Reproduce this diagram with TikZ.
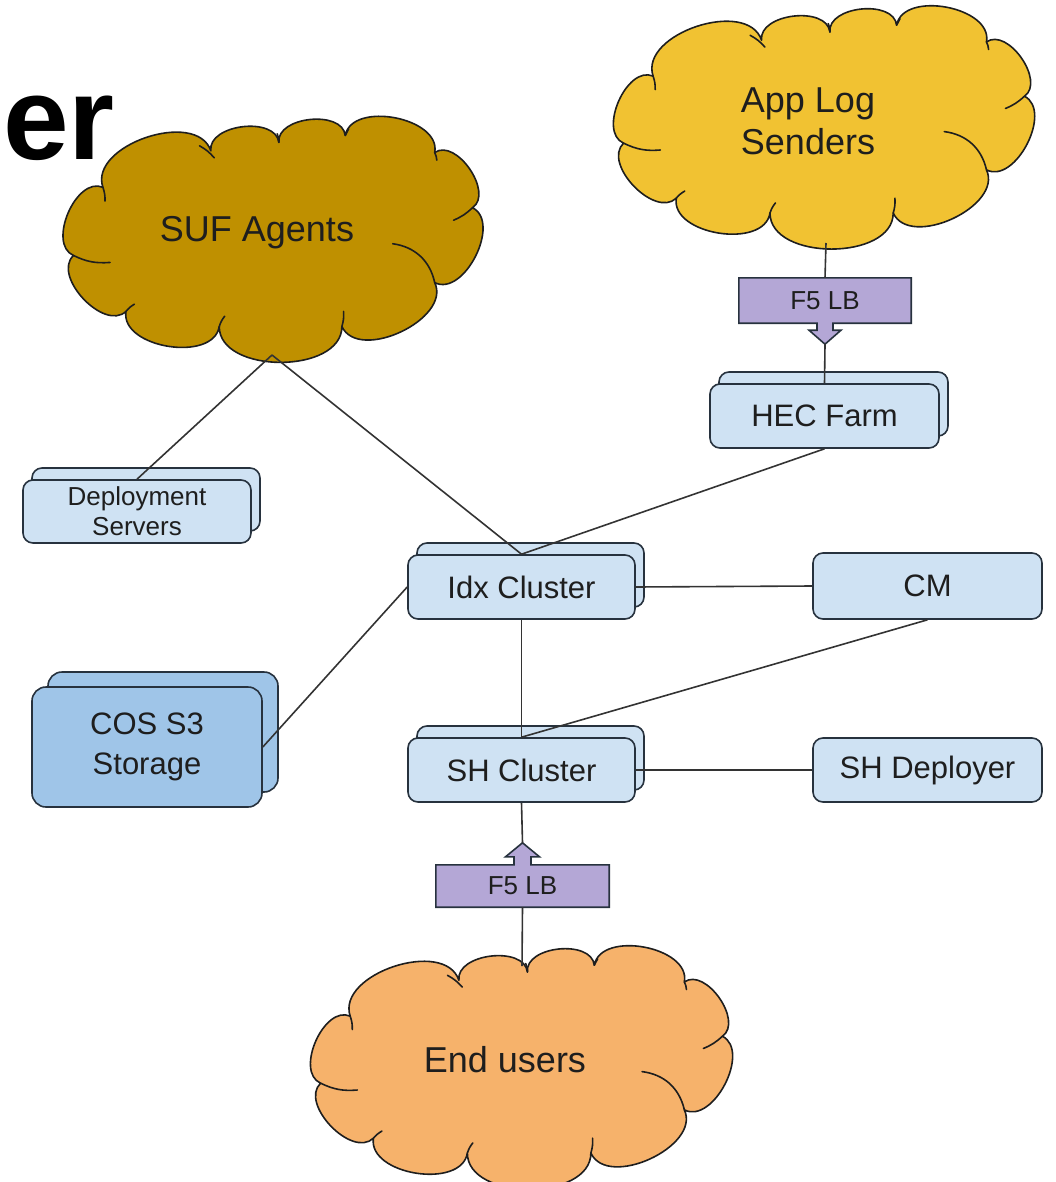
\documentclass[tikz,border=0pt]{standalone}
\usepackage{fontspec}
\setmainfont{Liberation Sans}
\usetikzlibrary{shadows,backgrounds}

\definecolor{boxfill}{HTML}{CFE2F3}
\definecolor{storefill}{HTML}{9FC5E8}
\definecolor{edge}{HTML}{27323E}
\definecolor{lbfill}{HTML}{B4A7D6}
\definecolor{sufcol}{HTML}{BF9000}
\definecolor{appcol}{HTML}{F1C232}
\definecolor{usercol}{HTML}{F6B26B}
\definecolor{ink}{HTML}{1E1E1E}
\definecolor{wire}{HTML}{333333}

\tikzset{
  puff/.style={bend left=90},
  cloudline/.style={draw=ink, line width=1.6pt, line join=round},
  cloudmark/.style={draw=ink, line width=1.6pt, line cap=round},
  cloudlabel/.style={inner sep=0pt, text=ink, align=center, font=\fontsize{36}{42}\selectfont},
  clusterbox/.style={draw=edge, line width=1.6pt, fill=boxfill, rounded corners=10pt,
    text=ink, font=\fontsize{31}{40}\selectfont, align=center, inner sep=0pt},
  stacked/.style={copy shadow={shadow xshift=9pt, shadow yshift=12pt}},
  lbnode/.style={inner sep=0pt, text=ink, font=\fontsize{26}{30}\selectfont},
  lbshape/.style={draw=edge, line width=1.6pt, fill=lbfill, line join=miter},
  wireline/.style={draw=wire, line width=1.6pt},
}

% A cloud of puffs inside the box with top-left corner (#1,#2), size #3 x #4
\newcommand\cloudshape[5]{%
  \begin{scope}[shift={(#1,#2)}]
    \filldraw[cloudline, fill=#5]
      (0.095*#3,0.293*#4) to[puff] (0.352*#3,0.141*#4)
      to[puff] (0.514*#3,0.106*#4) to[puff] (0.672*#3,0.077*#4)
      to[puff] (0.885*#3,0.148*#4) to[puff] (0.975*#3,0.378*#4)
      to[puff] (0.885*#3,0.690*#4) to[puff] (0.664*#3,0.873*#4)
      to[puff] (0.372*#3,0.873*#4) to[puff] (0.150*#3,0.810*#4)
      to[puff] (0.025*#3,0.577*#4) to[puff] (0.095*#3,0.293*#4) -- cycle;
    \draw[cloudmark] (0.025*#3,0.577*#4) to[bend right=15] (0.112*#3,0.606*#4);
    \draw[cloudmark] (0.095*#3,0.293*#4) to[bend left=10] (0.100*#3,0.350*#4);
    \draw[cloudmark] (0.325*#3,0.120*#4) to[bend left=10] (0.360*#3,0.170*#4);
    \draw[cloudmark] (0.514*#3,0.106*#4) to[bend right=10] (0.510*#3,0.070*#4);
    \draw[cloudmark] (0.672*#3,0.077*#4) to[bend left=10] (0.680*#3,0.050*#4);
    \draw[cloudmark] (0.885*#3,0.148*#4) to[bend left=10] (0.890*#3,0.180*#4);
    \draw[cloudmark] (0.975*#3,0.378*#4) to[bend left=10] (0.930*#3,0.430*#4);
    \draw[cloudmark] (0.785*#3,0.528*#4) to[bend left=35] (0.885*#3,0.690*#4);
    \draw[cloudmark] (0.664*#3,0.873*#4) to[bend right=10] (0.668*#3,0.810*#4);
    \draw[cloudmark] (0.372*#3,0.873*#4) to[bend left=10] (0.385*#3,0.830*#4);
    \draw[cloudmark] (0.150*#3,0.810*#4) to[bend left=10] (0.170*#3,0.780*#4);
  \end{scope}}

\begin{document}
\begin{tikzpicture}[x=1pt, y=-1pt]
  \useasboundingbox (0,0) rectangle (1056,1182);

  % heading fragment
  \node[anchor=base west, inner sep=0pt, text=black,
        font=\fontsize{118}{118}\selectfont\bfseries] (title) at (3,160) {er};

  % clouds
  \cloudshape{63}{117}{420}{240}{sufcol}
  \cloudshape{613}{7}{422}{236}{appcol}
  \cloudshape{310}{947}{423}{236}{usercol}
  \node[cloudlabel] (suf) at (257,233) {SUF Agents};
  \node[cloudlabel] (app) at (808,121) {App Log\\Senders};
  \node[cloudlabel] (users) at (505,1060) {End users};
  \coordinate (suf-foot) at (272,355);
  \coordinate (app-foot) at (826,243);
  \coordinate (users-top) at (522,966);

  % servers and clusters
  \node[clusterbox, stacked, minimum width=228pt, minimum height=63pt,
        font=\fontsize{26}{30}\selectfont] (dep) at (137,511.5) {Deployment\\Servers};
  \node[clusterbox, fill=storefill, rounded corners=14pt,
        copy shadow={shadow xshift=16pt, shadow yshift=15pt},
        minimum width=230pt, minimum height=120pt] (cos) at (147,747) {COS S3\\Storage};
  \node[clusterbox, stacked, minimum width=229pt, minimum height=64pt] (hec) at (824.5,416) {HEC Farm};
  \node[clusterbox, stacked, minimum width=227pt, minimum height=64pt] (idx) at (521.5,587) {Idx Cluster};
  \node[clusterbox, stacked, minimum width=227pt, minimum height=64pt] (sh) at (521.5,770) {SH Cluster};
  \node[clusterbox, minimum width=229pt, minimum height=66pt] (cm) at (927.5,586) {CM};
  \node[clusterbox, minimum width=229pt, minimum height=64pt] (shd) at (927.5,770) {SH Deployer};

  % load balancers with their arrow callouts
  \node[lbnode, minimum width=172pt, minimum height=45pt] (lbin) at (825,300.5) {F5 LB};
  \node[lbnode, minimum width=173pt, minimum height=42pt] (lbout) at (522.5,886) {F5 LB};
  \coordinate (lbin-tip) at ([yshift=-21pt]lbin.south);
  \coordinate (lbout-tip) at ([yshift=22pt]lbout.north);
  \begin{pgfonlayer}{background}
    \filldraw[lbshape] (lbin.north west) -- (lbin.north east) -- (lbin.south east)
      -- ([xshift=8pt]lbin.south) -- ++(0,7) -- ++(8,0) -- (lbin-tip)
      -- ++(-16,-14) -- ++(8,0) -- ([xshift=-8pt]lbin.south) -- (lbin.south west) -- cycle;
    \filldraw[lbshape] (lbout.south west) -- (lbout.north west)
      -- ([xshift=-8.5pt]lbout.north) -- ++(0,-8) -- ++(-8.5,0) -- (lbout-tip)
      -- ++(17,14) -- ++(-8.5,0) -- ([xshift=8.5pt]lbout.north)
      -- (lbout.north east) -- (lbout.south east) -- cycle;
  \end{pgfonlayer}

  % connectors
  \draw[wireline] (app-foot) -- (lbin.north);
  \draw[wireline] (lbin-tip) -- (hec.north);
  \draw[wireline] (suf-foot) -- (dep.north);
  \draw[wireline] (suf-foot) -- (idx.north);
  \draw[wireline] (hec.south) -- (idx.north);
  \draw[wireline] (idx.east) -- (cm.west);
  \draw[wireline] (idx.south) -- (sh.north);
  \draw[wireline] (cm.south) -- (sh.north);
  \draw[wireline] (sh.east) -- (shd.west);
  \draw[wireline] (cos.east) -- (idx.west);
  \draw[wireline] (sh.south) -- (lbout-tip);
  \draw[wireline] (lbout.south) -- (users-top);
\end{tikzpicture}
\end{document}
